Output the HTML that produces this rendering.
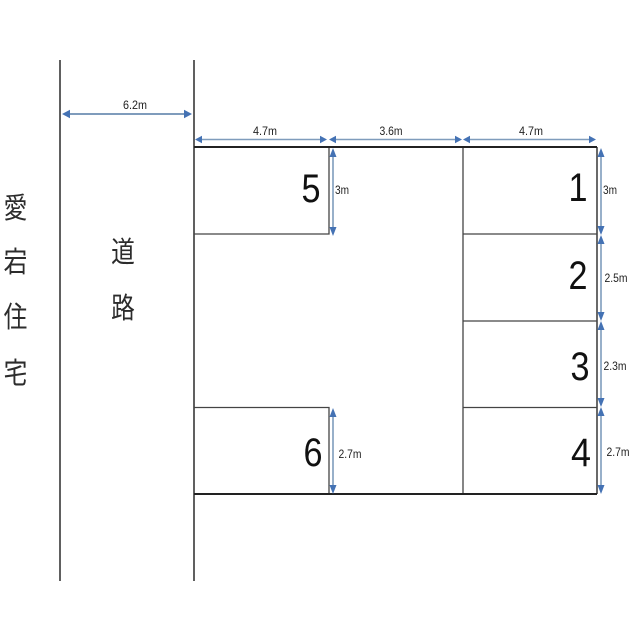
<!DOCTYPE html>
<html lang="ja">
<head>
<meta charset="utf-8">
<style>
html,body{margin:0;padding:0;background:#fff;width:640px;height:640px;overflow:hidden}
svg{display:block}
.s{font-family:"Liberation Sans",sans-serif;font-size:12px;fill:#222;text-anchor:middle}
.d{font-family:"Liberation Sans",sans-serif;font-size:40px;fill:#111;text-anchor:middle}
.k{font-family:"Liberation Sans","Noto Sans CJK JP",sans-serif;font-size:25px;fill:#2c2c2c;text-anchor:middle}
.dim{stroke:#7f9cbc;stroke-width:1.6;fill:none}
.h{fill:#4472b4}
</style>
</head>
<body>
<svg width="640" height="640" viewBox="0 0 640 640" xmlns="http://www.w3.org/2000/svg">
<rect width="640" height="640" fill="#fff"/>
<g stroke="#444" stroke-width="1.7" fill="none">
<path d="M60 60V581M194 60V581"/>
<path d="M463 147V494" stroke-width="1.3"/>
<path d="M597 147V494" stroke-width="1.6"/>
<path d="M463 234H597M463 321H597M463 407.500H597" stroke-width="1.3"/>
<path d="M194 234H329V147M194 407.500H329V494" stroke-width="1.3"/>
</g>
<path d="M194 147H597M194 494H597" stroke="#222" stroke-width="2" fill="none"/>

<g class="dim">
<path d="M66 114H188" stroke-width="2"/>
<path d="M201 139.500H321M334 139.500H456M469 139.500H590"/>
<path d="M333 154V229M333 414V488M601 154V229M601 241V315M601 327V401M601 414V488"/>
</g>
<g class="h">
<path d="M62 114l8-4.300v8.600zM192 114l-8-4.300v8.600z"/>
<path d="M195 139.500l7-3.800v7.600zM327 139.500l-7-3.800v7.600zM329 139.500l7-3.800v7.600zM462 139.500l-7-3.800v7.600zM463 139.500l7-3.800v7.600zM596 139.500l-7-3.800v7.600z"/>
<path d="M333 148l-3.500 9h7zM333 236l-3.500-9h7zM333 408l-3.500 9h7zM333 494l-3.500-9h7z"/>
<path d="M601 148l-3.500 9h7zM601 235l-3.500-9h7zM601 235l-3.500 9h7zM601 321l-3.500-9h7zM601 321l-3.500 9h7zM601 407l-3.500-9h7zM601 407l-3.500 9h7zM601 494l-3.500-9h7z"/>
</g>

<text class="s" x="135" y="109" textLength="24" lengthAdjust="spacingAndGlyphs">6.2m</text>
<text class="s" x="265" y="135" textLength="24" lengthAdjust="spacingAndGlyphs">4.7m</text>
<text class="s" x="391" y="135" textLength="23" lengthAdjust="spacingAndGlyphs">3.6m</text>
<text class="s" x="531" y="135" textLength="24" lengthAdjust="spacingAndGlyphs">4.7m</text>
<text class="s" x="342" y="194" textLength="14" lengthAdjust="spacingAndGlyphs">3m</text>
<text class="s" x="610" y="194" textLength="14" lengthAdjust="spacingAndGlyphs">3m</text>
<text class="s" x="616" y="282" textLength="23" lengthAdjust="spacingAndGlyphs">2.5m</text>
<text class="s" x="615" y="370" textLength="23" lengthAdjust="spacingAndGlyphs">2.3m</text>
<text class="s" x="618" y="456" textLength="23" lengthAdjust="spacingAndGlyphs">2.7m</text>
<text class="s" x="350" y="458" textLength="23" lengthAdjust="spacingAndGlyphs">2.7m</text>

<text class="d" x="311" y="202" textLength="19" lengthAdjust="spacingAndGlyphs">5</text>
<text class="d" x="578" y="201" textLength="19" lengthAdjust="spacingAndGlyphs">1</text>
<text class="d" x="578" y="289" textLength="19" lengthAdjust="spacingAndGlyphs">2</text>
<text class="d" x="580" y="380" textLength="19" lengthAdjust="spacingAndGlyphs">3</text>
<text class="d" x="581" y="466" textLength="20" lengthAdjust="spacingAndGlyphs">4</text>
<text class="d" x="313" y="466" textLength="19" lengthAdjust="spacingAndGlyphs">6</text>

<text class="k" transform="translate(15.500 218) scale(.95 1.15)">愛</text>
<text class="k" transform="translate(15.500 272) scale(.95 1.15)">宕</text>
<text class="k" transform="translate(15.500 327) scale(.95 1.15)">住</text>
<text class="k" transform="translate(15.500 383) scale(.95 1.15)">宅</text>
<text class="k" transform="translate(123 262) scale(.95 1.15)">道</text>
<text class="k" transform="translate(123 318) scale(.95 1.15)">路</text>
</svg>
</body>
</html>
